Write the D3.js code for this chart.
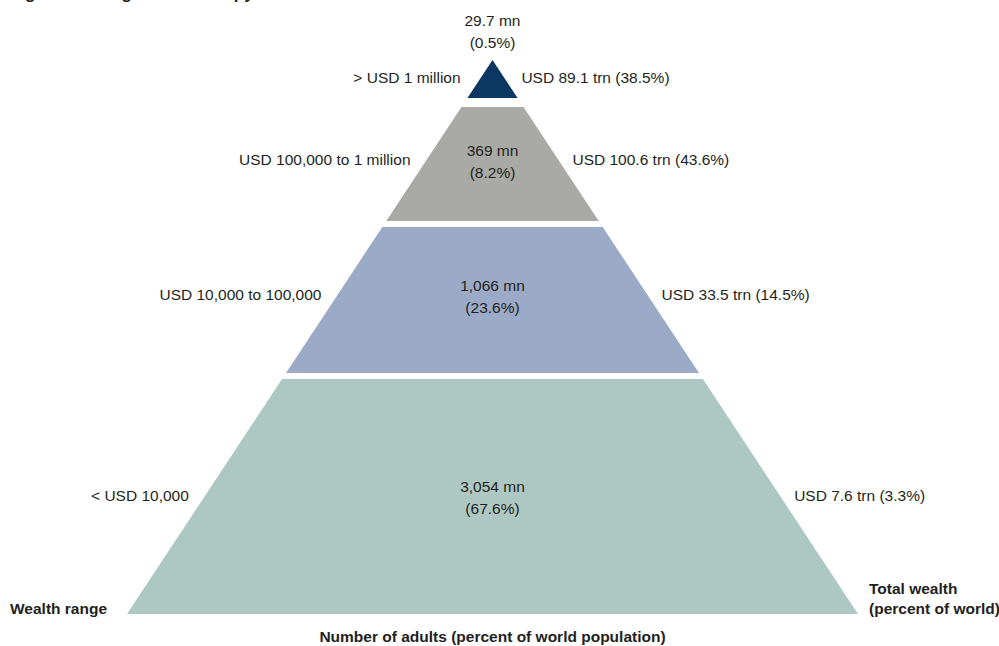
<!DOCTYPE html>
<meta charset="utf-8">
<script src="https://d3js.org/d3.v7.min.js"></script>
<style>
  body { margin: 0; background: #fff; }
  text { font-family: "Liberation Sans", Arial, sans-serif; fill: #231f20; }
</style>
<svg id="chart" width="999" height="646"></svg>
<script>

// Data (top tier first)
var tiers = ["> USD 1 million", "USD 100,000 to 1 million", "USD 10,000 to 100,000", "< USD 10,000"];
var adults = ["29.7 mn", "369 mn", "1,066 mn", "3,054 mn"];
var adultShare = ["(0.5%)", "(8.2%)", "(23.6%)", "(67.6%)"];
var wealth = ["USD 89.1 trn (38.5%)", "USD 100.6 trn (43.6%)", "USD 33.5 trn (14.5%)", "USD 7.6 trn (3.3%)"];
var colors = ["#0b3763", "#a9aaa5", "#9baac6", "#adc8c3"];

var svg = d3.select("#chart");
var cx = 492.5;

// tier boundaries (level 0 = apex, 4 = base)
var yEdge = d3.scaleLinear().domain([0, 1, 2, 3, 4]).range([60, 102.5, 224, 376, 614]);
// half width of the pyramid at a given y
var half = d3.scaleLinear().domain([60, 614]).range([0, 365.5]);
var gap = 3;

var data = tiers.map(function(t, i) {
  var top = yEdge(i) + (i === 0 ? 0 : gap);
  var bottom = yEdge(i + 1) - (i === 3 ? 0 : gap);
  if (i === 0) bottom -= 1.5;
  if (i === 1) top += 1.5;
  return {range: t, adults: adults[i], share: adultShare[i], wealth: wealth[i], color: colors[i], top: top, bottom: bottom};
});

// tiers
svg.selectAll("path.tier")
  .data(data)
  .enter()
  .append("path")
    .attr("class", "tier")
    .attr("fill", function(d) { return d.color })
    .attr("d", function(d) {
      return d3.line()([
        [cx - half(d.top), d.top], [cx + half(d.top), d.top],
        [cx + half(d.bottom), d.bottom], [cx - half(d.bottom), d.bottom]
      ]) + "Z";
    });

// label baselines
var midY = [83, 165, 300, 501];
var centerY = [26, 156, 291, 492];

// wealth range labels on the left
svg.selectAll("text.range")
  .data(data)
  .enter()
  .append("text")
    .attr("class", "range")
    .attr("x", function(d, i) { return cx - half(midY[i] - 5) - (i === 0 ? 20 : 16) })
    .attr("y", function(d, i) { return midY[i] })
    .attr("text-anchor", "end")
    .style("font-size", "15.5px")
    .text(function(d) { return d.range });

// total wealth on the right
svg.selectAll("text.wealth")
  .data(data)
  .enter()
  .append("text")
    .attr("class", "wealth")
    .attr("x", function(d, i) { return cx + half(midY[i] - 5) + (i === 0 ? 17 : 14) })
    .attr("y", function(d, i) { return midY[i] })
    .style("font-size", "15.5px")
    .text(function(d) { return d.wealth });

// adults in the middle
var mid = svg.selectAll("g.adults")
  .data(data)
  .enter()
  .append("text")
    .attr("class", "adults")
    .attr("text-anchor", "middle")
    .style("font-size", "15.5px");
mid.append("tspan")
  .attr("x", cx)
  .attr("y", function(d, i) { return centerY[i] })
  .text(function(d) { return d.adults });
mid.append("tspan")
  .attr("x", cx)
  .attr("y", function(d, i) { return centerY[i] + 21.5 })
  .text(function(d) { return d.share });

// axis titles
svg.append("text")
  .attr("x", 10).attr("y", 614)
  .style("font-size", "15.5px").style("font-weight", "bold")
  .text("Wealth range");
svg.append("text")
  .attr("x", 869).attr("y", 594)
  .style("font-size", "15.5px").style("font-weight", "bold")
  .text("Total wealth");
svg.append("text")
  .attr("x", 869).attr("y", 614)
  .style("font-size", "15.5px").style("font-weight", "bold")
  .text("(percent of world)");
svg.append("text")
  .attr("x", cx).attr("y", 642)
  .attr("text-anchor", "middle")
  .style("font-size", "15.5px").style("font-weight", "bold")
  .text("Number of adults (percent of world population)");

// figure title, cut off at the top
svg.append("text")
  .attr("x", 10).attr("y", -1)
  .style("font-size", "17px").style("font-weight", "bold")
  .text("Figure 1: The global wealth pyramid");

</script>
